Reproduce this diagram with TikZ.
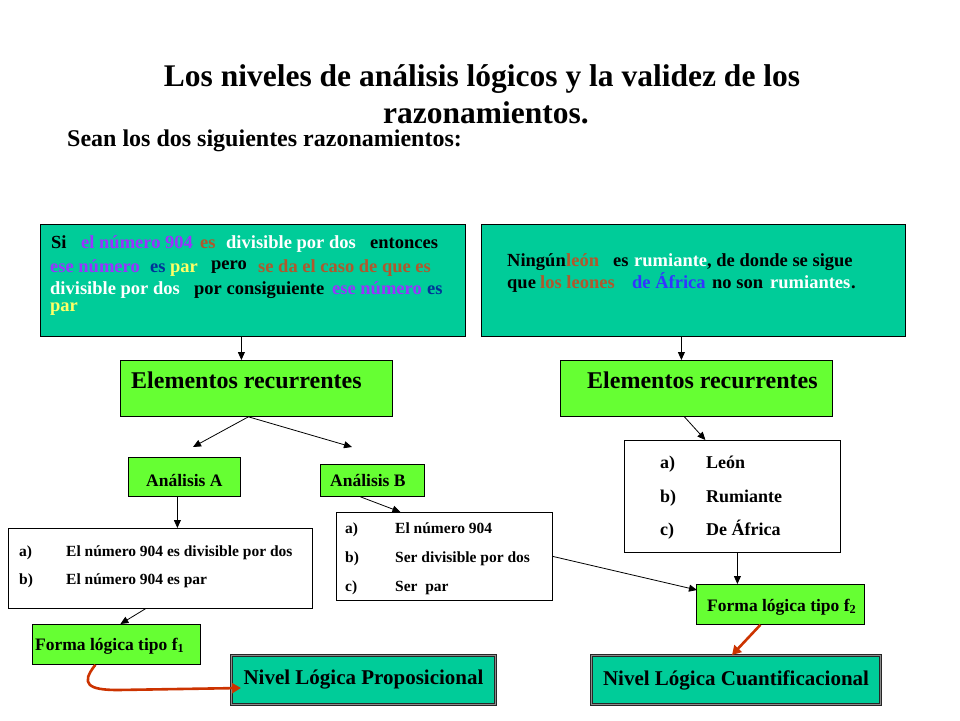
\documentclass[tikz,border=0pt]{standalone}
\usepackage{fontspec}
\setmainfont{Liberation Serif}
\usetikzlibrary{arrows.meta,calc}
\definecolor{boxteal}{HTML}{00CC99}
\definecolor{boxgreen}{HTML}{66FF33}
\definecolor{purp}{HTML}{9933FF}
\definecolor{brwn}{HTML}{B0582C}
\definecolor{navyb}{HTML}{003399}
\definecolor{yell}{HTML}{FFFF66}
\definecolor{bluet}{HTML}{3333FF}
\definecolor{arrred}{HTML}{CC3300}
\tikzset{
  box/.style={draw, anchor=north west, inner sep=0pt, line width=0.8pt},
  tealbox/.style={box, fill=boxteal},
  greenbox/.style={box, fill=boxgreen},
  listbox/.style={box, fill=white},
  seg/.style={anchor=base west, inner sep=0pt, font=\fontsize{18.5}{22}\selectfont\bfseries},
  itemA/.style={anchor=base west, inner sep=0pt, font=\fontsize{15.5}{18}\selectfont\bfseries},
  itemC/.style={anchor=base west, inner sep=0pt, font=\fontsize{18}{21}\selectfont\bfseries},
  label/.style={anchor=base west, inner sep=0pt, font=\fontsize{17.5}{20}\selectfont\bfseries},
  arr/.style={line width=0.8pt, -{Triangle[length=8pt,width=7pt]}},
  redarr/.style={draw=arrred, line width=2.6pt, -{Triangle[length=9pt,width=10pt]}},
  nivel/.style={draw=black!85, double=black!45, double distance=1.2pt, line width=1pt,
    fill=boxteal, minimum height=49pt, inner sep=0pt, font=\fontsize{21}{24}\selectfont\bfseries}
}
\begin{document}
\begin{tikzpicture}[x=1pt,y=-1pt]
  \useasboundingbox[fill=white] (0,0) rectangle (960,720);

  % title
  \node[anchor=base, inner sep=0pt, font=\fontsize{31.5}{36}\selectfont\bfseries] (title1) at (482,86)
    {Los niveles de análisis lógicos y la validez de los};
  \node[anchor=base, inner sep=0pt, font=\fontsize{31.5}{36}\selectfont\bfseries] (title2) at (486,123)
    {razonamientos.};
  \node[anchor=base west, inner sep=0pt, font=\fontsize{24}{27}\selectfont\bfseries] (intro) at (67,146)
    {Sean los dos siguientes razonamientos:};

  % the two arguments
  \node[tealbox, minimum width=425pt, minimum height=112pt] (box1) at (40,224) {};
  \node[tealbox, minimum width=424pt, minimum height=112pt] (box2) at (481,224) {};
  \foreach \x/\y/\c/\t [count=\i] in {
      51/248/black/Si, 81/248/purp/{el número 904}, 200/248/brwn/es,
      226/248/white/{divisible por dos}, 370/248/black/entonces,
      50/272/purp/{ese número}, 150/272/navyb/es, 170/272/yell/par,
      211/269/black/pero, 258/272/brwn/{se da el caso de que es},
      50/294/white/{divisible por dos}, 194/294/black/{por consiguiente},
      332/294/purp/{ese número}, 427/294/navyb/es, 50/311/yell/par}
    \node[seg, text=\c] (p\i) at (\x,\y) {\t};
  \foreach \x/\y/\c/\t [count=\i] in {
      507/266/black/Ningún, 566/266/brwn/león, 613/266/black/es,
      634/266/white/rumiante, 707/266/black/{, de donde se sigue},
      507/288/black/que, 540/288/brwn/{los leones}, 632/288/bluet/{de África},
      712/288/black/{no son}, 770/288/white/rumiantes, 851/288/black/.}
    \node[seg, text=\c] (q\i) at (\x,\y) {\t};

  % recurring elements
  \node[greenbox, minimum width=272pt, minimum height=56pt] (er1) at (120,360) {};
  \node[greenbox, minimum width=272pt, minimum height=56pt] (er2) at (560,360) {};
  \node[anchor=base west, inner sep=0pt, font=\fontsize{24}{28}\selectfont\bfseries] (er1t) at (131,388)
    {Elementos recurrentes};
  \node[anchor=base west, inner sep=0pt, font=\fontsize{24}{28}\selectfont\bfseries] (er2t) at (587,388)
    {Elementos recurrentes};

  % analyses
  \node[greenbox, minimum width=112pt, minimum height=39pt] (anA) at (128,457) {};
  \node[greenbox, minimum width=104pt, minimum height=32pt] (anB) at (320,464) {};
  \node[label] (anAt) at (146,486) {Análisis A};
  \node[label] (anBt) at (330,486) {Análisis B};

  % lists
  \node[listbox, minimum width=304pt, minimum height=80pt] (listA) at (8,528) {};
  \node[listbox, minimum width=216pt, minimum height=88pt] (listB) at (336,512) {};
  \node[listbox, minimum width=216pt, minimum height=112pt] (listC) at (624,440) {};
  \foreach \y/\l/\t [count=\i] in {556/a)/{El número 904 es divisible por dos}, 584/b)/{El número 904 es par}} {
    \node[itemA] (la\i) at (19,\y) {\l};
    \node[itemA] (lat\i) at (66,\y) {\t};
  }
  \foreach \y/\l/\t [count=\i] in {533/a)/{El número 904}, 562/b)/{Ser divisible por dos}, 591/c)/{Ser~ par}} {
    \node[itemA] (lb\i) at (345,\y) {\l};
    \node[itemA] (lbt\i) at (395,\y) {\t};
  }
  \foreach \y/\l/\t [count=\i] in {468/a)/León, 502/b)/Rumiante, 535/c)/{De África}} {
    \node[itemC] (lc\i) at (660,\y) {\l};
    \node[itemC] (lct\i) at (706,\y) {\t};
  }

  % logical forms
  \node[greenbox, minimum width=168pt, minimum height=40pt] (f1) at (32,624) {};
  \node[greenbox, minimum width=168pt, minimum height=40pt] (f2) at (696,584) {};
  \node[label] (f1t) at (35,650) {Forma lógica tipo f\textsubscript{1}};
  \node[label] (f2t) at (707,611) {Forma lógica tipo f\textsubscript{2}};

  % levels
  \node[nivel, minimum width=264pt] (nivel1) at (363.5,680) {Nivel Lógica Proposicional};
  \node[nivel, minimum width=289pt] (nivel2) at (736,680) {Nivel Lógica Cuantificacional};

  % connectors
  \coordinate (tipA) at (193,447);
  \coordinate (tipB) at (352,447);
  \draw[arr] ([xshift=-11.5pt]box1.south) -- ([xshift=-15pt]er1.north);
  \draw[arr] ([xshift=-12pt]box2.south) -- ([xshift=-15pt]er2.north);
  \draw[arr] ([xshift=-8pt]er1.south) -- (tipA);
  \draw[arr] ([xshift=-8pt]er1.south) -- (tipB);
  \draw[arr] ([xshift=-7pt]anA.south) -- ([xshift=-7pt]anA.south |- listA.north);
  \draw[arr] ([xshift=-12pt]anB.south) -- ([xshift=-44pt]listB.north);
  \draw[arr] ([xshift=-15pt]listA.south) -- ([xshift=4pt]f1.north);
  \draw[arr] ([xshift=-12pt]er2.south) -- ([xshift=-27pt]listC.north);
  \draw[arr] ([xshift=5pt]listC.south) -- ([xshift=5pt]listC.south |- f2.north);
  \draw[arr] (listB.east) -- ($(f2.north west)+(1,6)$);
  \draw[redarr] ([xshift=-20pt]f2.south) -- ([xshift=-4pt]nivel2.north);
  \draw[redarr] ([xshift=-21pt]f1.south) .. controls (80,684) and (88,690) .. (118,690)
    -- ($(nivel1.west)+(10,8)$);
\end{tikzpicture}
\end{document}
